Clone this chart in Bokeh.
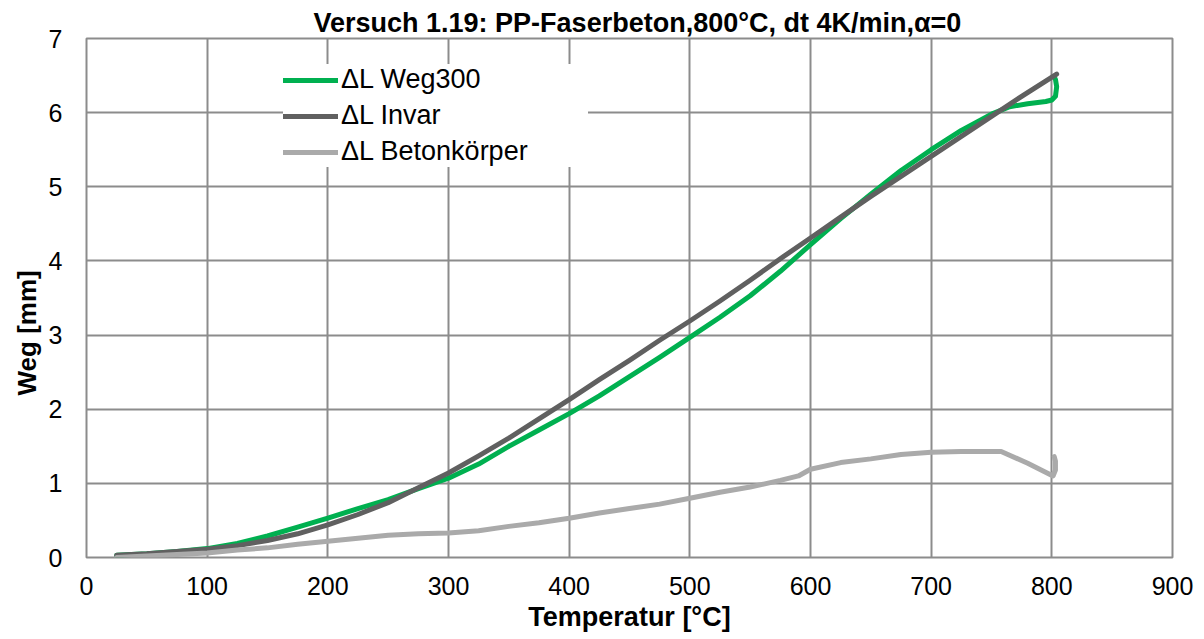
from bokeh.plotting import figure
from bokeh.models import Range1d, Legend, LegendItem, FixedTicker, Title
from bokeh.embed import file_html
from bokeh.resources import INLINE

# Temperatur [°C] / Weg [mm]
T_weg = [25, 50, 75, 100, 125, 150, 175, 200, 225, 250, 275, 300, 325, 350, 375, 400, 425, 450,
         475, 500, 525, 550, 575, 600, 625, 650, 675, 700, 725, 750, 765, 780, 795, 800, 803, 804, 803]
W_weg = [0.03, 0.05, 0.08, 0.12, 0.19, 0.29, 0.41, 0.53, 0.66, 0.78, 0.93, 1.07, 1.26, 1.50, 1.72,
         1.94, 2.18, 2.44, 2.70, 2.97, 3.24, 3.53, 3.86, 4.22, 4.57, 4.90, 5.22, 5.50, 5.76, 5.98,
         6.08, 6.12, 6.15, 6.17, 6.22, 6.35, 6.45]

T_inv = [25, 50, 75, 100, 125, 150, 175, 200, 225, 250, 275, 300, 325, 350, 375, 400, 425, 450,
         475, 500, 525, 550, 575, 600, 625, 650, 675, 700, 725, 750, 775, 804]
W_inv = [0.03, 0.05, 0.08, 0.11, 0.16, 0.23, 0.32, 0.44, 0.58, 0.74, 0.94, 1.14, 1.37, 1.61, 1.87,
         2.13, 2.40, 2.66, 2.93, 3.19, 3.46, 3.74, 4.03, 4.31, 4.59, 4.87, 5.14, 5.41, 5.68, 5.95,
         6.22, 6.52]

T_bet = [25, 50, 75, 100, 125, 150, 175, 200, 225, 250, 275, 300, 325, 350, 375, 400, 425, 450,
         475, 500, 525, 550, 575, 590, 600, 625, 650, 675, 700, 725, 758, 780, 801, 803, 803, 802]
W_bet = [0.00, 0.02, 0.04, 0.06, 0.10, 0.13, 0.18, 0.22, 0.26, 0.30, 0.32, 0.33, 0.36, 0.42, 0.47,
         0.53, 0.60, 0.66, 0.72, 0.80, 0.88, 0.95, 1.04, 1.10, 1.19, 1.28, 1.33, 1.39, 1.42, 1.43,
         1.43, 1.27, 1.10, 1.18, 1.30, 1.36]

x_ticks = [0, 100, 200, 300, 400, 500, 600, 700, 800, 900]
y_ticks = [0, 1, 2, 3, 4, 5, 6, 7]

FONT = "Liberation Sans"
GRID = "#8c8c8c"

p = figure(width=1204, height=639, output_backend="svg", toolbar_location=None,
           x_range=Range1d(0, 900), y_range=Range1d(0, 7),
           min_border_left=86, min_border_right=32, min_border_top=38, min_border_bottom=82,
           title="Versuch 1.19: PP-Faserbeton,800°C, dt 4K/min,α=0")

p.title.align = "left"
p.title.offset = 227
p.title.text_font = FONT
p.title.text_font_size = "27px"
p.title.text_font_style = "bold"
p.title.text_color = "black"
p.title.standoff = 2

p.xaxis.ticker = FixedTicker(ticks=x_ticks)
p.yaxis.ticker = FixedTicker(ticks=y_ticks)
for ax in (p.xaxis, p.yaxis):
    ax.axis_line_color = None
    ax.major_tick_line_color = None
    ax.minor_tick_line_color = None
    ax.major_tick_out = 0
    ax.major_label_text_font = FONT
    ax.major_label_text_font_size = "25px"
    ax.major_label_text_color = "black"
p.xaxis.major_label_standoff = 19
p.yaxis.major_label_standoff = 24

p.grid.grid_line_color = GRID
p.grid.grid_line_width = 2
p.outline_line_color = GRID
p.outline_line_width = 2

r1 = p.line(T_weg, W_weg, line_color="#00b050", line_width=5, line_cap="round", line_join="round")
r2 = p.line(T_inv, W_inv, line_color="#606060", line_width=5, line_cap="round", line_join="round")
r3 = p.line(T_bet, W_bet, line_color="#aaaaaa", line_width=5, line_cap="round", line_join="round")

# axis titles
p.add_layout(Title(text="Temperatur [°C]", align="center", text_font=FONT, text_font_size="27px",
                   text_font_style="bold", text_color="black", standoff=4), "below")
p.add_layout(Title(text="Weg [mm]", align="left", offset=162, text_font=FONT,
                   text_font_size="26px", text_font_style="bold", text_color="black",
                   standoff=8), "left")

legend = Legend(items=[LegendItem(label="ΔL Weg300", renderers=[r1]),
                       LegendItem(label="ΔL Invar", renderers=[r2]),
                       LegendItem(label="ΔL Betonkörper", renderers=[r3])],
                location=(197, 390), border_line_color=None,
                background_fill_color="white", background_fill_alpha=1.0,
                label_text_font=FONT, label_text_font_size="27px", label_text_color="black",
                glyph_width=55, glyph_height=20, label_height=20, spacing=5, padding=12,
                label_width=247, label_standoff=3, margin=0)
p.add_layout(legend)

open("out.html", "w").write(file_html(p, INLINE))
